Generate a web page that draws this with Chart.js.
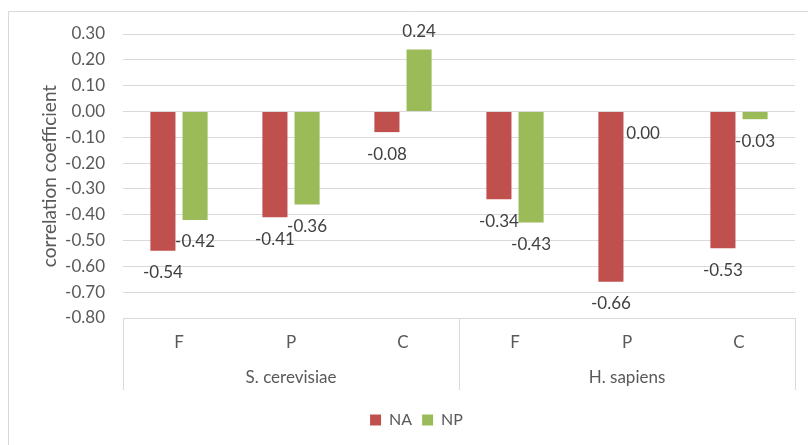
<!DOCTYPE html>
<html>
<head>
<meta charset="utf-8">
<script src="https://cdn.jsdelivr.net/npm/chart.js@4.4.1/dist/chart.umd.min.js"></script>
<style>
  html, body { margin: 0; padding: 0; background: #ffffff; }
  #wrap { position: relative; width: 808px; height: 445px; }
  canvas { display: block; }
</style>
</head>
<body>
<div id="wrap"><canvas id="chart" width="808" height="445"></canvas></div>
<script>
// Categories: measurement type within each organism
const categories = ['F', 'P', 'C', 'F', 'P', 'C'];
const groups = ['S. cerevisiae', 'H. sapiens'];
const groupSize = 3;

// Correlation coefficients per series
const naValues = [-0.54, -0.41, -0.08, -0.34, -0.66, -0.53];
const npValues = [-0.42, -0.36, 0.24, -0.43, 0.00, -0.03];

// Value axis
const yMin = -0.8;
const yMax = 0.3;
const yStep = 0.1;

const FONT = 'Lato, "Open Sans", sans-serif';
const TEXT = '#595959';
const LABEL = '#404040';
const GRID = '#d9d9d9';

// Outer frame of the chart
const framePlugin = {
  id: 'frame',
  beforeDraw(chart) {
    const ctx = chart.ctx;
    ctx.save();
    ctx.strokeStyle = GRID;
    ctx.lineWidth = 1;
    ctx.beginPath();
    ctx.moveTo(8.5, 445);
    ctx.lineTo(8.5, 11.5);
    ctx.lineTo(808, 11.5);
    ctx.stroke();
    ctx.restore();
  }
};

// Second tier of the category axis: organism names and separators
const groupAxisPlugin = {
  id: 'groupAxis',
  afterDraw(chart) {
    const ctx = chart.ctx;
    const x = chart.scales.x;
    const top = chart.chartArea.bottom;
    const bottom = top + 72;
    const half = (x.getPixelForValue(1) - x.getPixelForValue(0)) / 2;
    ctx.save();
    ctx.strokeStyle = GRID;
    ctx.lineWidth = 1;
    for (let g = 0; g <= groups.length; g++) {
      const idx = g * groupSize;
      const px = idx < categories.length
        ? x.getPixelForValue(idx) - half
        : x.getPixelForValue(categories.length - 1) + half;
      const sx = Math.round(px) + 0.5;
      ctx.beginPath();
      ctx.moveTo(sx, top);
      ctx.lineTo(sx, bottom);
      ctx.stroke();
    }
    ctx.fillStyle = TEXT;
    ctx.font = '17px ' + FONT;
    ctx.textAlign = 'center';
    ctx.textBaseline = 'middle';
    groups.forEach((name, g) => {
      const a = x.getPixelForValue(g * groupSize);
      const b = x.getPixelForValue(g * groupSize + groupSize - 1);
      ctx.fillText(name, (a + b) / 2, top + 60);
    });
    ctx.restore();
  }
};

// Value labels at the outer end of each bar
const valueLabelPlugin = {
  id: 'valueLabels',
  afterDatasetsDraw(chart) {
    const ctx = chart.ctx;
    ctx.save();
    ctx.fillStyle = LABEL;
    ctx.font = '17px ' + FONT;
    ctx.textAlign = 'center';
    ctx.textBaseline = 'middle';
    chart.data.datasets.forEach((ds, di) => {
      const meta = chart.getDatasetMeta(di);
      meta.data.forEach((bar, i) => {
        const v = ds.data[i];
        const y = v > 0 ? bar.y - 18 : bar.y + 22;
        ctx.fillText(v.toFixed(2), bar.x, y);
      });
    });
    ctx.restore();
  }
};

new Chart(document.getElementById('chart'), {
  type: 'bar',
  data: {
    labels: categories,
    datasets: [
      { label: 'NA', data: naValues, backgroundColor: '#C0504D',
        categoryPercentage: 0.574, barPercentage: 0.78 },
      { label: 'NP', data: npValues, backgroundColor: '#9BBB59',
        categoryPercentage: 0.574, barPercentage: 0.78 }
    ]
  },
  options: {
    responsive: false,
    animation: false,
    layout: { padding: { top: 34, right: 13, left: 38, bottom: 7 } },
    plugins: {
      legend: {
        position: 'bottom',
        labels: {
          boxWidth: 11,
          boxHeight: 11,
          padding: 10,
          color: TEXT,
          font: { family: FONT, size: 16 }
        }
      },
      tooltip: { enabled: false }
    },
    scales: {
      x: {
        grid: { display: false, drawTicks: false },
        border: { display: false },
        ticks: { color: TEXT, font: { family: FONT, size: 17 }, padding: 14 },
        afterFit(scale) { scale.height = 84; }
      },
      y: {
        min: yMin,
        max: yMax,
        grid: { color: GRID, drawTicks: false, lineWidth: 1 },
        border: { display: false },
        ticks: {
          stepSize: yStep,
          padding: 18,
          color: TEXT,
          font: { family: FONT, size: 17 },
          callback: v => Number(v).toFixed(2)
        },
        title: {
          display: true,
          text: 'correlation coefficient',
          color: TEXT,
          padding: 0,
          font: { family: FONT, size: 19 }
        },
        afterFit(scale) { scale.width = 85; }
      }
    }
  },
  plugins: [framePlugin, groupAxisPlugin, valueLabelPlugin]
});
</script>
</body>
</html>
